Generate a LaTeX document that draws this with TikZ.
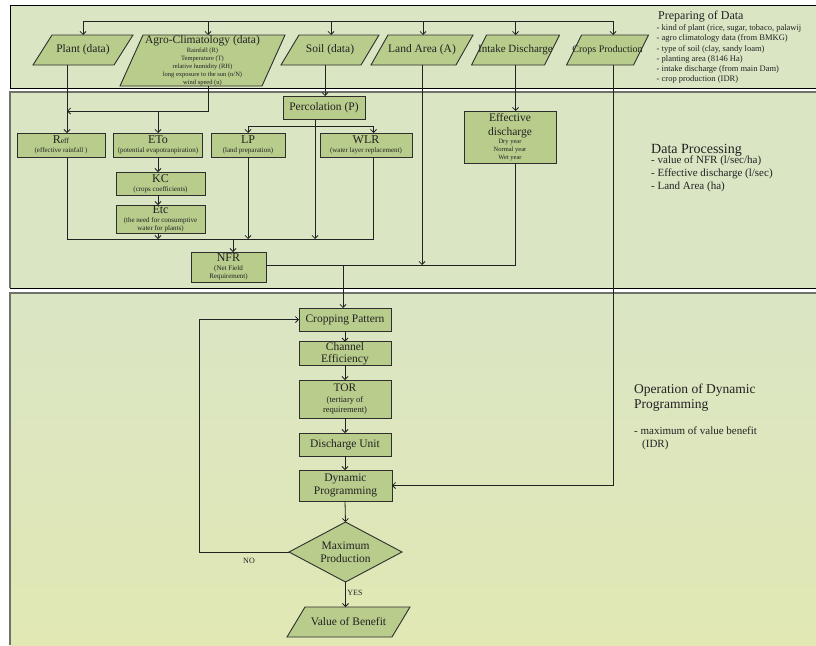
\documentclass[tikz,border=0pt]{standalone}
\usepackage{fontspec}
\setmainfont{Liberation Serif}
\usetikzlibrary{arrows.meta,shapes.geometric,calc}
\pgfdeclarelayer{bandlayer}
\pgfdeclarelayer{paralayer}
\pgfsetlayers{bandlayer,paralayer,main}
\definecolor{bandg}{HTML}{DAE5C4}
\definecolor{bandy}{HTML}{E1E8B4}
\definecolor{boxg}{HTML}{B8CC8C}
\definecolor{edgec}{HTML}{2E2E2E}
\definecolor{bandedge}{HTML}{6E7268}
\definecolor{txt}{HTML}{222222}
\newcommand\fsMain{\fontsize{11.5}{13}\selectfont}
\newcommand\fsBig{\fontsize{12}{13}\selectfont}
\newcommand\fsSm{\fontsize{7}{8}\selectfont}
\newcommand\fsTiny{\fontsize{6.5}{7.8}\selectfont}
\newcommand\fsTor{\fontsize{8.5}{10}\selectfont}
\newcommand\paradraw[2]{%
  \begin{pgfonlayer}{paralayer}
  \draw[paraline] (#1.south west) -- ($(#1.south east)+(-#2,0)$) -- (#1.north east) -- ($(#1.north west)+(#2,0)$) -- cycle;
  \end{pgfonlayer}}
\tikzset{
  box/.style={draw=edgec, line width=0.9pt, fill=boxg, inner sep=0.5pt, outer sep=0pt, align=center, font=\fsMain, text=txt},
  prl/.style={inner sep=0pt, outer sep=0pt, align=center, font=\fsMain, text=txt},
  paraline/.style={draw=edgec, line width=0.9pt, fill=boxg},
  ln/.style={line width=0.8pt, draw=txt},
  arr/.style={ln, -{Straight Barb[length=3pt,width=6pt]}},
  side/.style={anchor=west, inner sep=0pt, text=txt, align=left},
}
\begin{document}
\begin{tikzpicture}[x=1pt,y=-1pt]
\useasboundingbox (0,0) rectangle (816,645);
% bands
\begin{pgfonlayer}{bandlayer}
\fill[white] (0,0) rectangle (816,645);
\fill[bandg] (10,5) rectangle (816,88);
\draw[black, line width=1pt] (816,5) -- (10,5) -- (10,88) -- (816,88);
\fill[bandg] (10,92) rectangle (816,288);
\draw[bandedge, line width=1.2pt] (816,92) -- (10,92) -- (10,288);
\draw[black, line width=0.9pt] (10,288) -- (816,288);
\shade[top color=bandg, bottom color=bandy] (10,293) rectangle (816,645);
\draw[bandedge, line width=1.2pt] (816,293) -- (10,293) -- (10,645);
\end{pgfonlayer}

% ---- top band: data ----
\node[prl, minimum width=100, minimum height=30] (plant) at (83,50) {Plant (data)};
\paradraw{plant}{19}
\node[prl, minimum width=165, minimum height=51, font=\fsTiny] (agro) at (202.5,60.5)
  {{\fsMain Agro-Climatology (data)}\\[1.5pt] Rainfall (R)\\ Temperature (T)\\ relative humidity (RH)\\ long exposure to the sun (n/N)\\ wind speed (u)};
\paradraw{agro}{23}
\node[prl, minimum width=98, minimum height=30] (soil) at (330,50) {Soil (data)};
\paradraw{soil}{18}
\node[prl, minimum width=102, minimum height=30] (land) at (422,50) {Land Area (A)};
\paradraw{land}{17}
\node[prl, minimum width=88, minimum height=30, font=\fontsize{11}{12}\selectfont] (intake) at (515.5,50) {Intake Discharge};
\paradraw{intake}{15}
\node[prl, minimum width=82, minimum height=30, font=\fontsize{10}{12}\selectfont] (crops) at (607.5,50) {Crops Production};
\paradraw{crops}{15}

\node[side, font=\fontsize{12}{14}\selectfont] (prepT) at (658,17) {Preparing of Data};
\node[side, anchor=north west, font=\fontsize{8.5}{10.2}\selectfont] (prepL) at (656.5,24.5)
  {- kind of plant (rice, sugar, tobaco, palawij\\- agro climatology data (from BMKG)\\- type of soil (clay, sandy loam)\\- planting area (8146 Ha)\\- intake discharge (from main Dam)\\- crop production (IDR)};

% top distribution line
\coordinate (tl) at (83,21);
\coordinate (tr) at (613,21);
\draw[ln] (tl) -- (tr);
\draw[arr] (tl) -- (plant.north);
\draw[arr] ([xshift=5.5pt]agro.north |- tl) -- ([xshift=5.5pt]agro.north);
\draw[arr] ([xshift=1pt]soil.north |- tl) -- ([xshift=1pt]soil.north);
\draw[arr] ([xshift=1pt]land.north |- tl) -- ([xshift=1pt]land.north);
\draw[arr] (intake.north |- tl) -- (intake.north);
\draw[arr] (tr) -- ([xshift=5.5pt]crops.north);

% ---- middle band: data processing ----
\node[box, minimum width=82, minimum height=23] (perc) at (324,107.5) {Percolation (P)};
\node[box, minimum width=88, minimum height=24, font=\fsSm] (reff) at (61,145)
  {{\fsBig R{\fontsize{7.5}{8}\selectfont eff}}\\[1pt] (effective rainfall )};
\node[box, minimum width=89, minimum height=24, font=\fsSm] (eto) at (158,145)
  {{\fsBig ETo}\\[1pt] (potential evapotranpiration)};
\node[box, minimum width=74, minimum height=24, font=\fsSm] (lp) at (248,145)
  {{\fsBig LP}\\[1pt] (land preparation)};
\node[box, minimum width=92, minimum height=24, font=\fsSm] (wlr) at (366,145)
  {{\fsBig WLR}\\[1pt] (water layer replacement)};
\node[box, minimum width=89, minimum height=23, font=\fsSm] (kc) at (160.5,183.5)
  {{\fsBig KC}\\[1pt] (crops coefficients)};
\node[box, minimum width=89, minimum height=28, font=\fsSm] (etc) at (160.5,219)
  {{\fsBig Etc}\\[0.5pt] (the need for consumptive\\ water for plants)};
\node[box, minimum width=75, minimum height=30, font=\fsSm] (nfr) at (228.5,267)
  {{\fsBig NFR}\\[1pt] (Net Field\\ Requirement)};
\node[box, minimum width=92, minimum height=52, font=\fsTiny] (eff) at (510,137)
  {{\fsMain Effective}\\[5pt] {\fsMain discharge}\\[1pt] Dry year\\ Normal year\\ Wet year};

\node[side, font=\fontsize{14}{16}\selectfont] (dpT) at (651,150) {Data Processing};
\node[side, anchor=north west, font=\fontsize{11}{13}\selectfont] (dpL) at (651,156)
  {- value of NFR (l/sec/ha)\\- Effective discharge (l/sec)\\- Land Area (ha)};

% connectors middle band
\coordinate (aj) at (67,111);
\coordinate (bus) at (0,239);
\coordinate (nb) at (0,265);
\coordinate (pb) at (315,119);
\coordinate (pj) at (315,126);
\draw[arr] ([xshift=-16pt]plant.south) -- ([xshift=6pt]reff.north);
\draw[arr] ([xshift=5.5pt]agro.south) |- (aj);
\draw[arr] (eto.north |- aj) -- (eto.north);
\draw[arr] ([xshift=-5pt]soil.south) -- ([xshift=1pt]perc.north);
\draw[ln] (pb) -- (pj);
\draw[arr] (pj) -| (lp.north);
\draw[arr] (pj) -| ([xshift=7.5pt]wlr.north);
\draw[arr] (eto.south) -- (eto.south |- kc.north);
\draw[arr] (kc.south -| eto.south) -- (eto.south |- etc.north);
\draw[ln] ([xshift=6pt]reff.south) -- ([xshift=6pt]reff.south |- bus) -- ([xshift=7.5pt]wlr.south |- bus) -- ([xshift=7.5pt]wlr.south);
\draw[arr] (etc.south -| eto.south) -- (eto.south |- bus);
\draw[arr] (lp.south) -- (lp.south |- bus);
\draw[arr] (pj) -- (pj |- bus);
\draw[arr] ([xshift=4.5pt]nfr.north |- bus) -- ([xshift=4.5pt]nfr.north);
\draw[arr] (intake.south) -- (intake.south |- eff.north);
\draw[ln] (nfr.east |- nb) -- (intake.south |- nb) -- (intake.south |- eff.south);
\draw[arr] (land.south) -- (land.south |- nb);

% ---- bottom band: dynamic programming ----
\node[box, minimum width=92, minimum height=23] (crop) at (345,319.5) {Cropping Pattern};
\node[box, minimum width=92, minimum height=23, font=\fontsize{11.5}{12.5}\selectfont] (chan) at (345,353.5) {Channel\\ Efficiency};
\node[box, minimum width=92, minimum height=38, font=\fsTor] (tor) at (345,399)
  {{\fsMain TOR}\\[0.5pt] (tertiary of\\ requirement)};
\node[box, minimum width=92, minimum height=23] (du) at (345,444.5) {Discharge Unit};
\node[box, minimum width=93, minimum height=31, font=\fontsize{11.5}{13.5}\selectfont] (dp) at (345.5,485.5) {Dynamic\\ Programming};
\node[box, diamond, aspect=1.9, minimum width=113, minimum height=60, inner sep=0pt, font=\fontsize{11.5}{13.5}\selectfont] (dia) at (345.5,552) {Maximum\\ Production};
\node[prl, minimum width=123, minimum height=30] (vob) at (348.5,622) {Value of Benefit};
\paradraw{vob}{18}

\node[side, anchor=north west, font=\fontsize{13.5}{15}\selectfont] (opT) at (634,384) {Operation of Dynamic\\Programming};
\node[side, anchor=north west, font=\fontsize{11}{13}\selectfont] (opL) at (634,427) {- maximum of value benefit\\\hspace*{8pt}(IDR)};

\coordinate (nl) at (199,0);
\draw[arr] ([xshift=-2pt]crop.north |- nb) -- ([xshift=-2pt]crop.north);
\draw[arr] (crop.south) -- (chan.north);
\draw[arr] (chan.south) -- (tor.north);
\draw[arr] (tor.south) -- (du.north);
\draw[arr] (du.south) -- (du.south |- dp.north);
\draw[arr] (du.south |- dp.south) -- (dia.north);
\draw[arr] (dia.south) -- (dia.south |- vob.north);
\draw[arr] ([xshift=5.5pt]crops.south) |- (dp.east);
\draw[arr] (dia.west) -- (dia.west -| nl) |- (crop.west);
\node[text=txt, font=\fontsize{8}{9}\selectfont, inner sep=0pt] (nolab) at (249,561) {NO};
\node[text=txt, font=\fontsize{8}{9}\selectfont, inner sep=0pt] (yeslab) at (355,593) {YES};
\end{tikzpicture}
\end{document}
